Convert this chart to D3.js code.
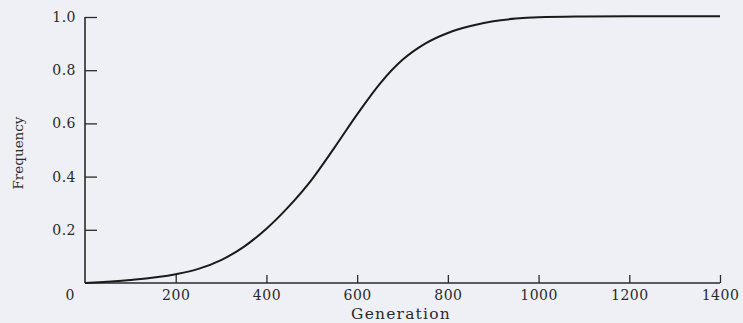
<!DOCTYPE html>
<html><head><meta charset="utf-8">
<script src="https://cdn.jsdelivr.net/npm/d3@7"></script>
<style>body{margin:0;background:#eef0f6;}svg{display:block;}</style>
</head><body><svg id="c" width="743" height="323"></svg>
<script>
const generations = [0,100,200,250,300,350,400,450,500,550,600,650,700,750,800,850,900,950,1000,1100,1200,1300,1400];
const frequency   = [0,0.011,0.033,0.053,0.086,0.136,0.204,0.289,0.389,0.509,0.634,0.749,0.839,0.9,0.94,0.966,0.984,0.994,0.999,1.002,1.003,1.003,1.003];
const xTicks = [200,400,600,800,1000,1200,1400];
const yTicks = [0.2,0.4,0.6,0.8,1.0];

const svg = d3.select("#c");
svg.append("rect").attr("width",743).attr("height",323).attr("fill","#eef0f6");
const x = d3.scaleLinear().domain([0,1400]).range([85,720]);
const y = d3.scaleLinear().domain([0,1]).range([283,17]);
const font = "'DejaVu Serif', 'Liberation Serif', serif";
const ink = "#2a2a2a";

// axes
const xa = svg.append("g").attr("transform","translate(0,283)")
  .call(d3.axisBottom(x).tickValues(xTicks).tickSize(-8).tickFormat(d3.format("d")).tickPadding(7));
const ya = svg.append("g").attr("transform","translate(85,0)")
  .call(d3.axisLeft(y).tickValues(yTicks).tickSize(-12).tickFormat(d3.format(".1f")).tickPadding(9));
[xa,ya].forEach(g=>{
  g.select(".domain").attr("stroke",ink).attr("stroke-width",1.6);
  g.selectAll(".tick line").attr("stroke",ink).attr("stroke-width",1.3);
  g.selectAll("text").attr("fill",ink).style("font-family",font).style("font-size","14px").style("letter-spacing","0.5px");
});
xa.select(".domain").attr("d","M85,0H720");
ya.select(".domain").attr("d","M0,283V17");

svg.append("text").attr("x",70).attr("y",300).attr("text-anchor","middle")
  .attr("fill",ink).style("font-family",font).style("font-size","14px").text("0");

// curve
const line = d3.line().x((d,i)=>x(generations[i])).y(d=>y(d)).curve(d3.curveMonotoneX);
svg.append("path").datum(frequency).attr("d",line).attr("fill","none")
  .attr("stroke","#1a1a1a").attr("stroke-width",2);

svg.append("text").attr("x",401).attr("y",319).attr("text-anchor","middle")
  .attr("fill",ink).style("font-family",font).style("font-size","15.5px").style("letter-spacing","1.2px").text("Generation");
svg.append("text").attr("transform","translate(23,153) rotate(-90)").attr("text-anchor","middle")
  .attr("fill",ink).style("font-family",font).style("font-size","13.5px").text("Frequency");
</script></body></html>
